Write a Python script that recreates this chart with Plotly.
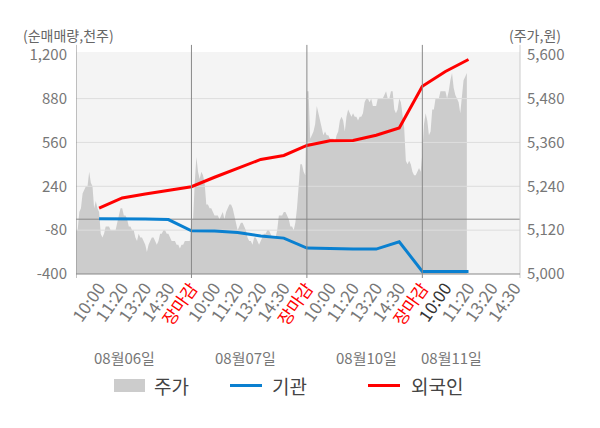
import plotly.graph_objects as go

FONT = "Noto Sans CJK KR"

# 날짜 / 시간대 라벨
days = ["08월06일", "08월07일", "08월10일", "08월11일"]
slot_labels = ["10:00", "11:20", "13:20", "14:30", "장마감"]

# 주가 (원) - 하루 70개 샘플, 08월11일은 장중
price_0806 = [5120, 5120, 5170, 5180, 5220, 5230, 5240, 5240, 5280, 5250,
              5240, 5180, 5200, 5180, 5170, 5110, 5100, 5110, 5130, 5130,
              5130, 5120, 5120, 5120, 5120, 5140, 5160, 5180, 5180, 5160,
              5160, 5150, 5130, 5130, 5120, 5120, 5100, 5090, 5110, 5100,
              5100, 5090, 5080, 5060, 5080, 5090, 5100, 5100, 5090, 5080,
              5090, 5110, 5110, 5120, 5120, 5110, 5110, 5100, 5090, 5090,
              5090, 5080, 5080, 5070, 5080, 5080, 5090, 5090, 5090, 5090]
price_0807 = [5150, 5150, 5250, 5320, 5280, 5260, 5280, 5270, 5250, 5190,
              5190, 5180, 5180, 5170, 5160, 5160, 5160, 5150, 5160, 5170,
              5150, 5170, 5180, 5190, 5190, 5180, 5160, 5140, 5120, 5130,
              5140, 5140, 5130, 5120, 5100, 5090, 5090, 5080, 5100, 5100,
              5090, 5080, 5090, 5100, 5110, 5110, 5120, 5120, 5110, 5100,
              5100, 5100, 5120, 5160, 5160, 5160, 5170, 5170, 5160, 5150,
              5130, 5130, 5120, 5140, 5180, 5250, 5300, 5300, 5280, 5270]
price_0810 = [5500, 5500, 5370, 5380, 5390, 5410, 5460, 5440, 5420, 5400,
              5380, 5390, 5380, 5380, 5370, 5370, 5370, 5360, 5380, 5390,
              5420, 5430, 5420, 5390, 5430, 5450, 5440, 5430, 5440, 5430,
              5430, 5420, 5430, 5430, 5440, 5470, 5480, 5480, 5470, 5480,
              5460, 5460, 5460, 5480, 5480, 5480, 5480, 5490, 5500, 5480,
              5480, 5500, 5500, 5450, 5440, 5450, 5480, 5470, 5440, 5400,
              5310, 5300, 5310, 5300, 5280, 5270, 5270, 5280, 5290, 5280]
price_0811 = [5330, 5410, 5440, 5420, 5380, 5390, 5450, 5450, 5480, 5480,
              5480, 5500, 5500, 5500, 5500, 5480, 5500, 5530, 5550, 5510,
              5490, 5480, 5470, 5440, 5480, 5530, 5540, 5550]
SAMPLES_PER_DAY = 70

# 누적 순매매량 (천주) - 시간대 슬롯별
inst = [3, 3, 2, -3, -85,
        -87, -97, -122, -138, -211,
        -216, -218, -218, -165, -381,
        -381, -381]
foreign = [80, 155, 184, 211, 237,
           306, 372, 436, 465, 538,
           572, 575, 613, 666, 970,
           1078, 1165]

left_ticks = [-400, -80, 240, 560, 880, 1200]
right_ticks = [5000, 5120, 5240, 5360, 5480, 5600]

# x축: 하루 = 5 슬롯
price_x, price_y = [], []
for d, prices in enumerate([price_0806, price_0807, price_0810, price_0811]):
    for i, p in enumerate(prices):
        price_x.append(d * 5 + i * 5 / SAMPLES_PER_DAY)
        price_y.append(p)

slot_x = list(range(1, len(inst) + 1))

tickvals, ticktext = [], []
for d in range(len(days)):
    for k, lab in enumerate(slot_labels):
        v = d * 5 + k + 1
        if v > 19:
            continue
        tickvals.append(v)
        if lab == "장마감":
            ticktext.append('<span style="color:#ff0000">장마감</span>')
        elif d == len(days) - 1 and k == 0:
            ticktext.append('<span style="color:#333333">' + lab + '</span>')
        else:
            ticktext.append(lab)

X_MAX = 19.23

fig = go.Figure()

fig.add_trace(go.Scatter(
    x=price_x, y=price_y, name="주가", mode="lines",
    line=dict(width=0, color="#cccccc"), fill="tozeroy", fillcolor="#cccccc",
    yaxis="y", hoverinfo="skip",
))

# 가로 그리드 (영역 위, 선 아래)
gx, gy = [], []
for t in left_ticks[1:-1]:
    gx += [0, X_MAX, None]
    gy += [t, t, None]
fig.add_trace(go.Scatter(x=gx, y=gy, mode="lines", yaxis="y2",
                         line=dict(color="#dddddd", width=1), hoverinfo="skip"))
fig.add_trace(go.Scatter(x=[0, X_MAX], y=[0, 0], mode="lines", yaxis="y2",
                         line=dict(color="#888888", width=1), hoverinfo="skip"))

fig.add_trace(go.Scatter(x=slot_x, y=inst, name="기관", mode="lines", yaxis="y2",
                         line=dict(color="#0a80d0", width=3)))
fig.add_trace(go.Scatter(x=slot_x, y=foreign, name="외국인", mode="lines", yaxis="y2",
                         line=dict(color="#ff0000", width=3)))

shapes = []
for xv in [0, 5, 10, 15]:
    shapes.append(dict(type="line", xref="x", yref="paper", x0=xv, x1=xv,
                       y0=-0.018, y1=1.032, line=dict(color="#888888", width=1)))
shapes.append(dict(type="line", xref="paper", yref="paper", x0=1, x1=1,
                   y0=-0.018, y1=1.032, line=dict(color="#cccccc", width=1)))
shapes.append(dict(type="line", xref="paper", yref="paper", x0=0, x1=1,
                   y0=0, y1=0, line=dict(color="#888888", width=1)))

# 범례 (직접 그림)
def px_x(p):
    return (p - 76) / 444

def px_y(p):
    return (274 - p) / 222

shapes.append(dict(type="rect", xref="paper", yref="paper",
                   x0=px_x(114), x1=px_x(145), y0=px_y(392), y1=px_y(379),
                   fillcolor="#cccccc", line=dict(width=0)))
shapes.append(dict(type="line", xref="paper", yref="paper",
                   x0=px_x(230), x1=px_x(262), y0=px_y(385.5), y1=px_y(385.5),
                   line=dict(color="#0a80d0", width=3)))
shapes.append(dict(type="line", xref="paper", yref="paper",
                   x0=px_x(368), x1=px_x(400), y0=px_y(385.5), y1=px_y(385.5),
                   line=dict(color="#ff0000", width=3)))

annotations = [
    dict(text="(순매매량,천주)", xref="paper", yref="paper", x=px_x(21), y=px_y(35),
         xanchor="left", yanchor="middle", showarrow=False,
         font=dict(size=14, color="#666666")),
    dict(text="(주가,원)", xref="paper", yref="paper", x=px_x(563), y=px_y(35),
         xanchor="right", yanchor="middle", showarrow=False,
         font=dict(size=14, color="#666666")),
]
for name, xc in zip(days, [2.08, 7.32, 12.56, 16.28]):
    annotations.append(dict(text=name, xref="x", yref="paper", x=xc, y=px_y(357),
                            xanchor="center", yanchor="middle", showarrow=False,
                            font=dict(size=15, color="#777777")))
for name, xl in [("주가", 152), ("기관", 270), ("외국인", 409)]:
    annotations.append(dict(text=name, xref="paper", yref="paper", x=px_x(xl), y=px_y(385),
                            xanchor="left", yanchor="middle", showarrow=False,
                            font=dict(size=19, color="#444444")))

fig.update_layout(
    width=600, height=428,
    margin=dict(l=76, r=80, t=52, b=154, autoexpand=False),
    paper_bgcolor="white", plot_bgcolor="#f4f4f4",
    font=dict(family=FONT, color="#777777", size=14),
    showlegend=False,
    hovermode=False,
    shapes=shapes,
    annotations=annotations,
    xaxis=dict(range=[0, X_MAX], tickvals=tickvals, ticktext=ticktext,
               tickangle=-55, showgrid=False, zeroline=False, showline=False,
               ticks="", automargin=False, tickfont=dict(size=17, color="#777777")),
    yaxis=dict(side="right", range=[5000, 5607.5], tickvals=right_ticks,
               ticktext=[f"{v:,}" for v in right_ticks], showgrid=False,
               zeroline=False, showline=False, ticks="", ticklabelstandoff=6,
               automargin=False, tickfont=dict(size=15, color="#777777")),
    yaxis2=dict(side="left", overlaying="y", range=[-400, 1220], tickvals=left_ticks,
                ticktext=[f"{v:,}" for v in left_ticks], showgrid=False,
                zeroline=False, showline=False, ticks="", ticklabelstandoff=8,
                automargin=False, tickfont=dict(size=15, color="#777777")),
)

# 페이지 기본 여백 제거
fig.write_html("out.html", config={"displayModeBar": False},
               post_script="document.body.style.margin='0';")
